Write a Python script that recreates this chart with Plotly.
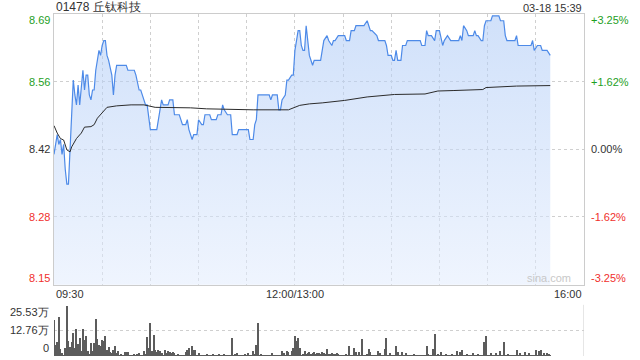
import plotly.graph_objects as go

# ---------------- data ----------------
stock_title = "01478 丘钛科技"
stamp = "03-18 15:39"
prev_close = 8.42

# minute index from 09:30 (0) .. 16:00 (330), lunch break removed
price_minute = [
    0, 1, 2, 3, 4, 5, 6, 7, 8, 9,
    10, 11, 12, 13, 14, 15, 16, 18, 19, 20,
    21, 22, 23, 24, 25, 26, 28, 29, 30, 31,
    32, 33, 34, 36, 37, 38, 39, 45, 46, 50,
    51, 53, 54, 57, 58, 60, 64, 66, 67, 68,
    71, 72, 74, 75, 78, 80, 82, 83, 84, 86,
    87, 89, 90, 92, 93, 94, 97, 98, 101, 102,
    104, 105, 106, 108, 110, 111, 114, 115, 121, 122,
    124, 125, 126, 127, 134, 135, 136, 139, 140, 141,
    142, 144, 145, 146, 148, 149, 150, 151, 152, 153,
    154, 155, 156, 157, 158, 159, 161, 162, 166, 167,
    168, 170, 171, 173, 174, 175, 177, 181, 182, 184,
    185, 187, 188, 193, 195, 196, 197, 198, 201, 202,
    206, 207, 208, 210, 211, 212, 213, 214, 216, 217,
    219, 220, 228, 229, 231, 232, 233, 235, 237, 238,
    240, 242, 243, 245, 247, 252, 253, 254, 255, 257,
    258, 261, 262, 263, 264, 266, 267, 268, 269, 272,
    273, 277, 278, 280, 281, 282, 287, 288, 289, 297,
    298, 299, 301, 302, 303, 304, 307, 309]

price = [
    8.41, 8.43, 8.45, 8.43, 8.44, 8.41, 8.43, 8.38, 8.35, 8.35,
    8.43, 8.50, 8.56, 8.53, 8.51, 8.55, 8.51, 8.58, 8.54, 8.57,
    8.57, 8.53, 8.52, 8.54, 8.54, 8.58, 8.62, 8.61, 8.63, 8.64,
    8.64, 8.61, 8.60, 8.57, 8.53, 8.57, 8.59, 8.59, 8.58, 8.58,
    8.57, 8.54, 8.54, 8.51, 8.51, 8.46, 8.46, 8.50, 8.52, 8.51,
    8.51, 8.52, 8.52, 8.49, 8.49, 8.47, 8.47, 8.48, 8.46, 8.44,
    8.45, 8.45, 8.48, 8.47, 8.47, 8.49, 8.49, 8.48, 8.48, 8.49,
    8.49, 8.51, 8.50, 8.49, 8.49, 8.45, 8.45, 8.46, 8.46, 8.44,
    8.44, 8.47, 8.48, 8.53, 8.53, 8.52, 8.53, 8.53, 8.50, 8.50,
    8.52, 8.53, 8.56, 8.56, 8.57, 8.57, 8.62, 8.64, 8.66, 8.66,
    8.63, 8.62, 8.62, 8.67, 8.64, 8.61, 8.59, 8.60, 8.60, 8.62,
    8.64, 8.65, 8.64, 8.63, 8.64, 8.64, 8.65, 8.65, 8.64, 8.64,
    8.66, 8.66, 8.67, 8.67, 8.68, 8.67, 8.66, 8.66, 8.65, 8.64,
    8.64, 8.63, 8.61, 8.61, 8.60, 8.60, 8.62, 8.60, 8.60, 8.63,
    8.63, 8.64, 8.64, 8.63, 8.63, 8.66, 8.65, 8.65, 8.64, 8.66,
    8.66, 8.63, 8.64, 8.65, 8.64, 8.64, 8.65, 8.64, 8.67, 8.66,
    8.65, 8.65, 8.66, 8.65, 8.65, 8.64, 8.64, 8.67, 8.68, 8.68,
    8.69, 8.69, 8.68, 8.68, 8.65, 8.64, 8.64, 8.65, 8.63, 8.63,
    8.64, 8.62, 8.63, 8.63, 8.63, 8.62, 8.62, 8.61]

avg_minute = [0, 2, 4, 6, 8, 10, 11, 14, 17, 19,
              23, 25, 27, 30, 33, 39, 48, 56, 60, 63,
              85, 95, 124, 146, 153, 159, 167, 181, 195, 212,
              231, 239, 249, 267, 269, 288, 309]
avg_price = [8.468, 8.453, 8.442, 8.439, 8.419, 8.415, 8.425, 8.442, 8.453, 8.465,
             8.466, 8.470, 8.483, 8.495, 8.505, 8.508, 8.510, 8.510, 8.507, 8.505,
             8.504, 8.502, 8.500, 8.500, 8.509, 8.512, 8.514, 8.519, 8.526, 8.531,
             8.532, 8.538, 8.539, 8.541, 8.545, 8.548, 8.549]

# per-minute volume, in 万 shares
volume = [
    18.0, 5.5, 7.2, 19.7, 3.4, 1.7, 0.8, 3.9, 25.2, 7.6,
    4.5, 7.0, 11.6, 3.9, 13.4, 6.2, 9.2, 2.5, 13.4, 8.1,
    10.1, 2.5, 1.2, 6.5, 2.5, 6.5, 18.5, 8.6, 5.5, 4.9,
    7.9, 7.6, 9.9, 2.9, 4.5, 2.2, 1.5, 2.9, 5.0, 1.5,
    2.5, 0.6, 1.1, 0.7, 1.9, 2.2, 2.0, 0.5, 0.8, 0.4,
    0.9, 0.6, 1.3, 1.7, 0.8, 0.5, 2.5, 1.2, 9.6, 3.9,
    16.6, 2.5, 10.6, 2.9, 2.2, 2.9, 2.5, 1.5, 0.8, 2.9,
    1.7, 2.5, 2.2, 1.7, 2.2, 1.7, 0.6, 0.9, 0.5, 0.8,
    0.4, 0.7, 2.2, 2.9, 3.9, 0.6, 5.0, 2.9, 3.2, 0.7,
    1.7, 0.5, 0.8, 0.4, 0.6, 0.9, 0.3, 0.7, 0.5, 1.0,
    0.6, 0.8, 0.4, 0.9, 0.5, 0.7, 1.1, 0.6, 0.4, 0.8,
    0.5, 8.9, 0.7, 1.2, 1.5, 0.4, 0.6, 0.5, 0.8, 1.2,
    0.6, 1.5, 0.7, 0.5, 2.5, 0.9, 5.5, 16.6, 0.6, 1.2,
    0.5, 0.4, 0.7, 0.8, 0.5, 0.6, 1.5, 0.4, 0.7, 0.5,
    0.6, 0.4, 2.5, 1.7, 0.8, 2.5, 2.2, 0.6, 2.5, 3.9,
    9.9, 7.6, 9.2, 3.9, 0.8, 1.1, 2.5, 1.3, 1.7, 2.2,
    1.0, 1.7, 2.2, 0.9, 1.7, 1.5, 1.2, 1.9, 1.4, 1.1,
    3.4, 1.3, 1.0, 1.6, 1.2, 0.9, 1.4, 1.1, 0.8, 0.6,
    0.7, 0.5, 0.9, 0.6, 5.0, 0.8, 0.5, 4.2, 2.2, 0.6,
    2.2, 0.7, 8.4, 0.5, 0.6, 0.9, 3.4, 2.2, 0.7, 0.5,
    0.8, 0.6, 2.5, 1.7, 0.7, 0.5, 3.4, 8.9, 0.6, 1.7,
    0.5, 0.8, 0.6, 5.0, 2.2, 0.7, 0.5, 2.2, 0.6, 1.7,
    0.8, 0.5, 0.7, 0.6, 0.9, 0.8, 0.5, 0.7, 0.6, 0.4,
    0.8, 0.6, 5.0, 1.2, 0.5, 0.7, 3.4, 11.3, 0.6, 0.9,
    0.7, 1.9, 0.5, 0.8, 1.2, 0.6, 0.4, 0.7, 1.2, 0.5,
    0.8, 2.5, 0.6, 2.2, 2.9, 0.5, 0.7, 1.2, 0.6, 0.4,
    0.8, 1.5, 0.5, 0.7, 1.2, 0.6, 0.5, 0.8, 7.2, 10.1,
    0.8, 0.6, 1.7, 0.5, 0.7, 1.5, 0.6, 0.4, 2.5, 0.7,
    7.2, 0.5, 0.8, 1.2, 0.6, 0.4, 0.7, 0.5, 2.9, 0.6,
    1.7, 0.8, 0.5, 1.9, 0.6, 0.7, 1.7, 0.5, 0.6, 0.8,
    2.9, 0.6, 2.5, 2.9, 0.5, 1.5, 0.7, 1.5, 1.2, 0.8]

price_tick_text = ["8.15", "8.28", "8.42", "8.56", "8.69"]
pct_tick_vals = [-3.25, -1.62, 0.0, 1.62, 3.25]
pct_tick_text = ["-3.25%", "-1.62%", "0.00%", "+1.62%", "+3.25%"]
vol_tick_vals = [0, 12.76, 25.53]
vol_tick_text = ["0", "12.76万", "25.53万"]
time_labels = ["09:30", "12:00/13:00", "16:00"]
time_label_minutes = [0, 150, 330]
grid_minutes = [30, 60, 90, 120, 150, 180, 210, 240, 270, 300]

# ---------------- styling ----------------
FONT = "Arial, 'Liberation Sans', sans-serif"
GREEN = "#1ea01e"
RED = "#f0302d"
DARK = "#333333"
GRID = "#cfcfcf"
BORDER = "#cccccc"

lo_pct, hi_pct = pct_tick_vals[0], pct_tick_vals[-1]
y_lo = prev_close * (1 + lo_pct / 100)
y_hi = prev_close * (1 + hi_pct / 100)
price_tick_vals = [prev_close * (1 + p / 100) for p in pct_tick_vals]


def colour_for(p):
    return GREEN if p > 0 else (RED if p < 0 else DARK)


fig = go.Figure()

fig.add_trace(go.Scatter(
    x=price_minute, y=price, mode="lines",
    line=dict(color="#4d8ae8", width=1.2),
    fill="tozeroy",
    fillgradient=dict(type="vertical", start=y_lo, stop=y_hi,
                      colorscale=[[0, "rgba(226,236,253,0.55)"],
                                  [1, "rgba(170,200,246,0.55)"]]),
    xaxis="x", yaxis="y", hoverinfo="skip", showlegend=False))

fig.add_trace(go.Scatter(
    x=avg_minute, y=avg_price, mode="lines",
    line=dict(color="#2b2b2b", width=1),
    xaxis="x", yaxis="y", hoverinfo="skip", showlegend=False))

fig.add_trace(go.Bar(
    x=list(range(len(volume))), y=volume,
    marker=dict(color="#5c5c5c", line=dict(width=0)), width=0.65,
    xaxis="x2", yaxis="y3", hoverinfo="skip", showlegend=False))

annotations = [
    dict(text=stock_title, xref="paper", yref="paper", x=0, y=1,
         xanchor="left", yanchor="bottom", yshift=-2, showarrow=False,
         font=dict(family=FONT, size=12, color=DARK)),
    dict(text=stamp, xref="paper", yref="paper", x=1, y=1,
         xanchor="right", yanchor="bottom", yshift=-2, showarrow=False,
         font=dict(family=FONT, size=11, color=DARK)),
    dict(text="sina.com", xref="x", yref="y", x=323, y=y_lo,
         xanchor="right", yanchor="bottom", yshift=-1, showarrow=False,
         font=dict(family=FONT, size=11, color="#c8c8c8")),
]
anchors = ["left", "center", "right"]
for lab, m, a in zip(time_labels, time_label_minutes, anchors):
    annotations.append(dict(text=lab, xref="x", yref="y", x=m, y=y_lo,
                            xanchor=a, yanchor="top", yshift=-1,
                            showarrow=False,
                            font=dict(family=FONT, size=11, color=DARK)))

# price / percent labels: end labels are tucked inside the range
n = len(pct_tick_vals)
for i, (p, yv, lt, rt) in enumerate(zip(pct_tick_vals, price_tick_vals,
                                         price_tick_text, pct_tick_text)):
    ya = "bottom" if i == 0 else ("top" if i == n - 1 else "middle")
    ys = -1 if i == 0 else (2 if i == n - 1 else 0)
    col = colour_for(p)
    annotations.append(dict(text=lt, xref="paper", yref="y", x=0, y=yv,
                            xanchor="right", yanchor=ya, xshift=-2, yshift=ys,
                            showarrow=False,
                            font=dict(family=FONT, size=11, color=col)))
    annotations.append(dict(text=rt, xref="paper", yref="y", x=1, y=yv,
                            xanchor="left", yanchor=ya, xshift=5, yshift=ys,
                            showarrow=False,
                            font=dict(family=FONT, size=11, color=col)))

vanchors = ["bottom", "middle", "top"]
vshift = [0, 0, 1]
for v, t, a, s in zip(vol_tick_vals, vol_tick_text, vanchors, vshift):
    annotations.append(dict(text=t, xref="paper", yref="y3", x=0, y=v,
                            xanchor="right", yanchor=a, xshift=-3, yshift=s,
                            showarrow=False,
                            font=dict(family=FONT, size=11, color=DARK)))

fig.update_layout(
    width=640, height=360,
    margin=dict(l=54, r=56, t=14, b=4),
    paper_bgcolor="white", plot_bgcolor="white",
    font=dict(family=FONT, size=11, color=DARK),
    showlegend=False,
    bargap=0,
    xaxis=dict(domain=[0, 1], range=[0, 330], tickvals=grid_minutes,
               showticklabels=False, ticks="", showgrid=True,
               gridcolor=GRID, griddash="dot", gridwidth=1,
               showline=True, linecolor=BORDER, linewidth=1, mirror=True,
               zeroline=False, anchor="y"),
    yaxis=dict(domain=[0.2082, 1], range=[y_lo, y_hi],
               tickvals=price_tick_vals, showticklabels=False,
               ticks="", showgrid=True,
               gridcolor=GRID, griddash="dot", gridwidth=1,
               showline=True, linecolor=BORDER, linewidth=1, mirror=True,
               zeroline=False, anchor="x"),
    xaxis2=dict(domain=[0, 1], range=[0, 330], showticklabels=False,
                ticks="", showgrid=False, zeroline=False,
                showline=False, anchor="y3"),
    yaxis3=dict(domain=[0, 0.1496], range=[0, vol_tick_vals[-1]],
                tickvals=vol_tick_vals[1:], showticklabels=False,
                ticks="", showgrid=True, gridcolor=GRID, griddash="dot",
                zeroline=False, showline=False, anchor="x2"),
    annotations=annotations,
    shapes=[dict(type="line", xref="x2", yref="y3 domain", x0=330, x1=330,
                 y0=0, y1=1, line=dict(color=BORDER, width=1))],
)

fig.write_html("out.html")
